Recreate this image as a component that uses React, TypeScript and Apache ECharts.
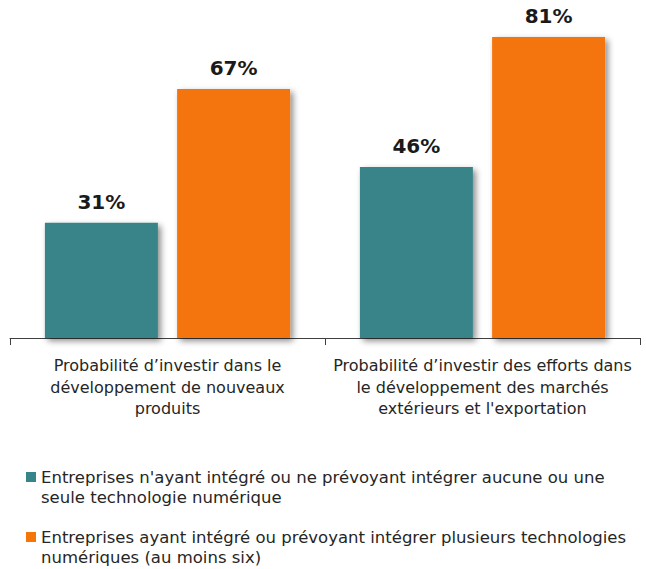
import React, { useEffect, useRef } from "react";
import * as echarts from "echarts";

const categories = [
  "Probabilité d’investir dans le\ndéveloppement de nouveaux\nproduits",
  "Probabilité d’investir des efforts dans\nle développement des marchés\nextérieurs et l'exportation",
];
const seriesNames = [
  "Entreprises n'ayant intégré ou ne prévoyant intégrer aucune ou une\nseule technologie numérique",
  "Entreprises ayant intégré ou prévoyant intégrer plusieurs technologies\nnumériques (au moins six)",
];
const fewTech = [31, 46];
const manyTech = [67, 81];
const colors = ["#378489", "#F47508"];

const FONT = "Tahoma, 'DejaVu Sans', sans-serif";

export default function App() {
  const ref = useRef<HTMLDivElement>(null);
  useEffect(() => {
    document.body.style.margin = "0";
    if (!ref.current) return;
    const chart = echarts.init(ref.current, undefined, { renderer: "svg" });
    const barStyle = (c: string) => ({
      color: c,
      shadowColor: "rgba(0,0,0,0.45)",
      shadowBlur: 6,
      shadowOffsetX: 3,
      shadowOffsetY: 3,
    });
    const label = {
      show: true,
      position: "top" as const,
      distance: 11,
      formatter: "{c}%",
      fontFamily: FONT,
      fontWeight: "bold" as const,
      fontSize: 20,
      color: "#1a1a1a",
    };
    const legendItems: any[] = [];
    seriesNames.forEach((n, i) => {
      const top = 472 + i * 60;
      legendItems.push({
        type: "rect",
        shape: { x: 26, y: top, width: 10, height: 10 },
        style: { fill: colors[i] },
      });
      legendItems.push({
        type: "text",
        x: 41,
        y: top - 5,
        style: {
          text: n,
          fontFamily: FONT,
          fontSize: 16.5,
          lineHeight: 20,
          fill: "#262626",
          verticalAlign: "top",
        },
      });
    });
    chart.setOption({
      animation: false,
      textStyle: { fontFamily: FONT },
      grid: { left: 10, right: 6, top: 3.6, bottom: 569 - 338, containLabel: false },
      xAxis: {
        type: "category",
        data: categories,
        axisLine: { lineStyle: { color: "#404040", width: 1 } },
        axisTick: { show: true, length: 7, lineStyle: { color: "#404040" } },
        axisLabel: {
          margin: 17,
          fontFamily: FONT,
          fontSize: 16,
          lineHeight: 21.5,
          color: "#262626",
          interval: 0,
        },
      },
      yAxis: { type: "value", min: 0, max: 90, show: false, splitLine: { show: false } },
      series: [
        {
          type: "bar",
          name: seriesNames[0],
          data: fewTech,
          barWidth: 113,
          barGap: "17%",
          itemStyle: barStyle(colors[0]),
          label,
        },
        {
          type: "bar",
          name: seriesNames[1],
          data: manyTech,
          barWidth: 113,
          barGap: "17%",
          itemStyle: barStyle(colors[1]),
          label,
        },
      ],
      graphic: legendItems,
    });
    return () => chart.dispose();
  }, []);
  return <div ref={ref} style={{ width: 646, height: 569 }} />;
}
